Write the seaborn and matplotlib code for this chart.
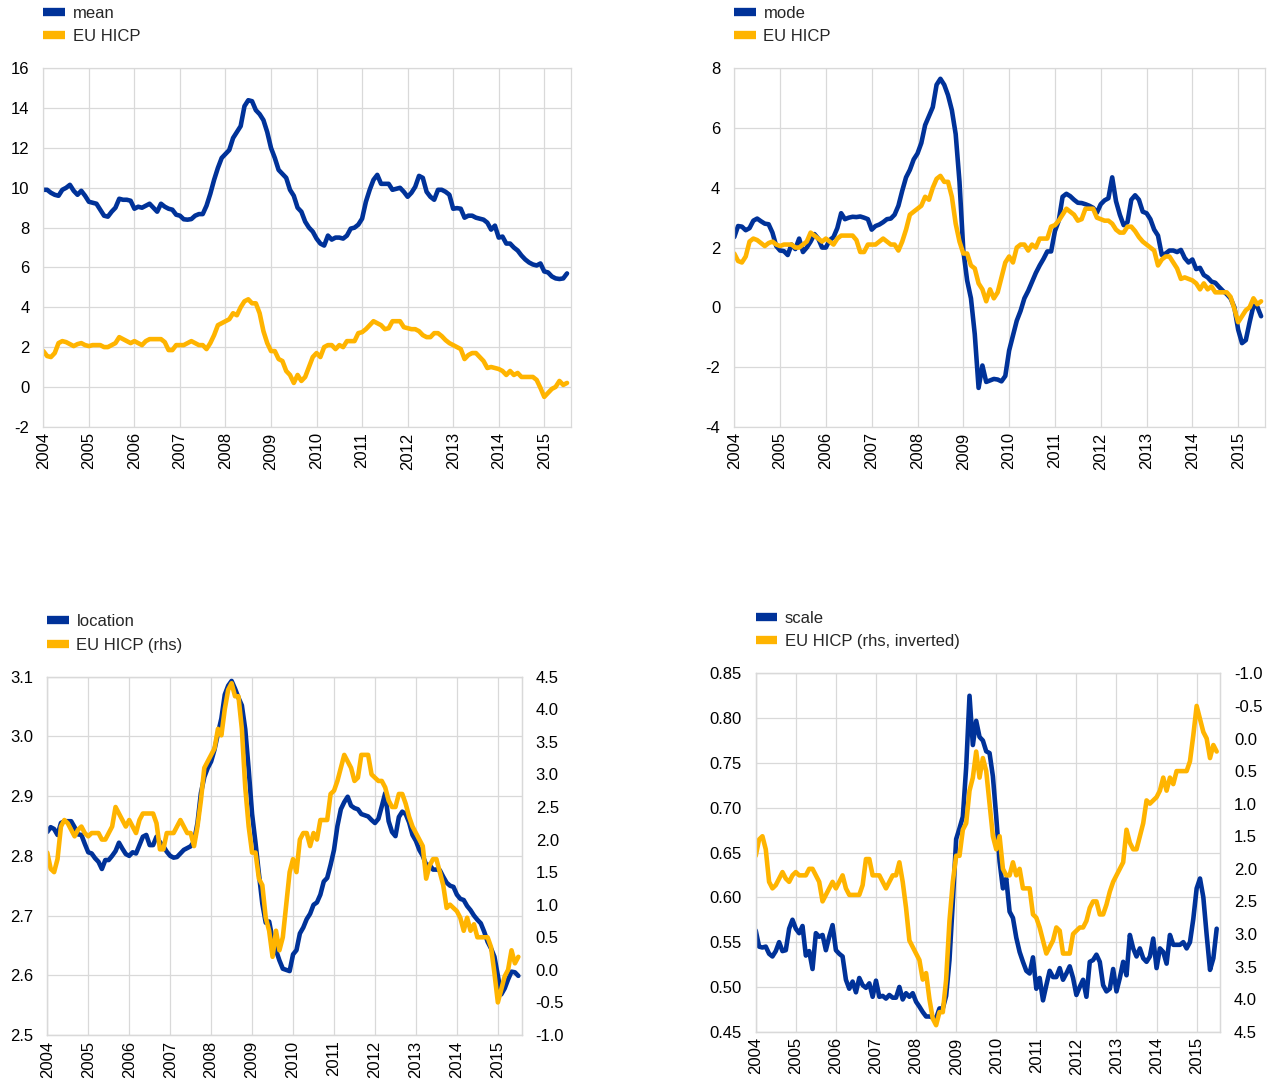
import numpy as np
import pandas as pd
import matplotlib
matplotlib.use("Agg")
import matplotlib.pyplot as plt
from matplotlib.lines import Line2D
from matplotlib.ticker import FormatStrFormatter, MultipleLocator
import seaborn as sns

# Monthly observations, January 2004 to July 2015
hicp = (
    [1.8, 1.55, 1.5, 1.7, 2.2, 2.3, 2.25, 2.15, 2.05, 2.15, 2.2, 2.1]
    + [2.05, 2.1, 2.1, 2.1, 2.0, 2.0, 2.1, 2.2, 2.5, 2.4, 2.3, 2.2]
    + [2.3, 2.2, 2.1, 2.3, 2.4, 2.4, 2.4, 2.4, 2.25, 1.85, 1.85, 2.1]
    + [2.1, 2.1, 2.2, 2.3, 2.2, 2.1, 2.1, 1.9, 2.2, 2.6, 3.1, 3.2]
    + [3.3, 3.4, 3.7, 3.6, 4.0, 4.3, 4.4, 4.2, 4.2, 3.7, 2.8, 2.2]
    + [1.8, 1.8, 1.4, 1.3, 0.8, 0.6, 0.2, 0.6, 0.3, 0.5, 1.0, 1.5]
    + [1.7, 1.5, 2.0, 2.1, 2.1, 1.9, 2.1, 2.0, 2.3, 2.3, 2.3, 2.7]
    + [2.75, 2.9, 3.1, 3.3, 3.2, 3.1, 2.9, 2.95, 3.3, 3.3, 3.3, 3.0]
    + [2.95, 2.9, 2.9, 2.8, 2.6, 2.5, 2.5, 2.7, 2.7, 2.55, 2.35, 2.2]
    + [2.1, 2.0, 1.9, 1.4, 1.6, 1.7, 1.7, 1.5, 1.3, 0.95, 1.0, 0.95]
    + [0.9, 0.8, 0.6, 0.8, 0.6, 0.7, 0.5, 0.5, 0.5, 0.5, 0.35, -0.05]
    + [-0.5, -0.3, -0.1, 0.0, 0.3, 0.1, 0.2]
)

mean_rate = (
    [9.9, 9.9, 9.75, 9.65, 9.6, 9.9, 10.0, 10.15, 9.85, 9.65, 9.85, 9.6]
    + [9.3, 9.25, 9.2, 8.9, 8.6, 8.55, 8.8, 9.0, 9.45, 9.4, 9.4, 9.35]
    + [8.95, 9.05, 9.0, 9.1, 9.2, 9.0, 8.8, 9.2, 9.05, 8.95, 8.9, 8.65]
    + [8.6, 8.42, 8.4, 8.43, 8.6, 8.68, 8.68, 9.1, 9.7, 10.4, 11.0, 11.5]
    + [11.7, 11.9, 12.5, 12.8, 13.1, 14.1, 14.4, 14.35, 13.9, 13.7, 13.4, 12.8]
    + [12.0, 11.5, 10.9, 10.7, 10.5, 9.9, 9.6, 9.0, 8.8, 8.3, 8.0, 7.8]
    + [7.45, 7.2, 7.1, 7.6, 7.4, 7.5, 7.5, 7.45, 7.6, 7.95, 8.0, 8.15]
    + [8.45, 9.3, 9.9, 10.4, 10.65, 10.2, 10.2, 10.2, 9.9, 9.95, 10.0, 9.8]
    + [9.55, 9.75, 10.05, 10.6, 10.5, 9.8, 9.55, 9.4, 9.9, 9.9, 9.8, 9.65]
    + [8.95, 8.98, 8.95, 8.5, 8.6, 8.6, 8.5, 8.45, 8.4, 8.25, 7.9, 8.1]
    + [7.5, 7.55, 7.2, 7.2, 7.0, 6.85, 6.6, 6.4, 6.25, 6.15, 6.1, 6.2]
    + [5.8, 5.75, 5.55, 5.45, 5.42, 5.45, 5.7]
)

mode_rate = (
    [2.35, 2.72, 2.7, 2.58, 2.65, 2.9, 2.97, 2.88, 2.8, 2.78, 2.5, 2.05]
    + [1.9, 1.88, 1.75, 2.1, 1.95, 2.3, 1.85, 2.0, 2.2, 2.45, 2.3, 2.0]
    + [2.0, 2.25, 2.35, 2.65, 3.15, 2.95, 3.0, 3.03, 3.02, 3.04, 3.0, 2.95]
    + [2.6, 2.72, 2.77, 2.85, 2.95, 2.97, 3.1, 3.4, 3.9, 4.35, 4.6, 4.95]
    + [5.15, 5.5, 6.1, 6.4, 6.7, 7.45, 7.65, 7.45, 7.1, 6.6, 5.8, 4.2]
    + [1.9, 0.9, 0.3, -0.9, -2.7, -1.95, -2.5, -2.45, -2.4, -2.42, -2.48, -2.3]
    + [-1.45, -0.95, -0.45, -0.12, 0.3, 0.55, 0.85, 1.15, 1.4, 1.62, 1.87, 1.87]
    + [2.55, 2.9, 3.7, 3.8, 3.72, 3.6, 3.5, 3.49, 3.45, 3.4, 3.33, 3.17]
    + [3.45, 3.58, 3.65, 4.35, 3.55, 3.1, 2.75, 2.85, 3.6, 3.75, 3.6, 3.2]
    + [3.15, 2.95, 2.6, 2.4, 1.75, 1.8, 1.9, 1.9, 1.85, 1.92, 1.65, 1.5]
    + [1.6, 1.28, 1.32, 1.08, 1.0, 0.86, 0.82, 0.68, 0.55, 0.44, 0.3, 0.0]
    + [-0.75, -1.2, -1.1, -0.5, 0.05, 0.02, -0.3]
)

location = (
    [2.84, 2.848, 2.845, 2.835, 2.855, 2.858, 2.858, 2.858, 2.848, 2.836, 2.835, 2.82]
    + [2.806, 2.804, 2.796, 2.79, 2.778, 2.793, 2.793, 2.8, 2.808, 2.822, 2.812, 2.803]
    + [2.8, 2.806, 2.804, 2.818, 2.832, 2.835, 2.818, 2.818, 2.832, 2.823, 2.816, 2.807]
    + [2.8, 2.797, 2.798, 2.804, 2.81, 2.813, 2.816, 2.824, 2.855, 2.905, 2.932, 2.947]
    + [2.958, 2.978, 3.005, 3.03, 3.07, 3.085, 3.093, 3.08, 3.065, 3.052, 3.012, 2.945]
    + [2.87, 2.822, 2.77, 2.72, 2.688, 2.69, 2.66, 2.642, 2.625, 2.611, 2.609, 2.607]
    + [2.635, 2.642, 2.67, 2.68, 2.694, 2.703, 2.718, 2.722, 2.735, 2.757, 2.763, 2.785]
    + [2.81, 2.85, 2.878, 2.89, 2.899, 2.884, 2.88, 2.878, 2.87, 2.868, 2.866, 2.86]
    + [2.855, 2.862, 2.883, 2.905, 2.858, 2.84, 2.833, 2.865, 2.874, 2.87, 2.856, 2.835]
    + [2.825, 2.81, 2.8, 2.785, 2.785, 2.777, 2.777, 2.776, 2.765, 2.755, 2.75, 2.748]
    + [2.735, 2.728, 2.726, 2.716, 2.709, 2.7, 2.693, 2.687, 2.673, 2.656, 2.645, 2.631]
    + [2.6, 2.568, 2.578, 2.593, 2.606, 2.605, 2.599]
)

scale = (
    [0.563, 0.545, 0.544, 0.545, 0.537, 0.534, 0.54, 0.55, 0.54, 0.541, 0.565, 0.575]
    + [0.565, 0.56, 0.568, 0.535, 0.54, 0.52, 0.56, 0.556, 0.558, 0.541, 0.556, 0.569]
    + [0.541, 0.537, 0.534, 0.508, 0.498, 0.506, 0.494, 0.51, 0.502, 0.499, 0.504, 0.489]
    + [0.507, 0.489, 0.49, 0.487, 0.491, 0.488, 0.488, 0.5, 0.486, 0.493, 0.489, 0.493]
    + [0.4835, 0.478, 0.472, 0.467, 0.467, 0.466, 0.465, 0.476, 0.476, 0.49, 0.53, 0.595]
    + [0.665, 0.677, 0.69, 0.745, 0.825, 0.77, 0.797, 0.779, 0.775, 0.763, 0.761, 0.735]
    + [0.69, 0.64, 0.61, 0.621, 0.584, 0.577, 0.555, 0.539, 0.528, 0.518, 0.515, 0.533]
    + [0.498, 0.51, 0.485, 0.502, 0.518, 0.511, 0.511, 0.521, 0.508, 0.515, 0.523, 0.51]
    + [0.491, 0.5, 0.508, 0.489, 0.528, 0.53, 0.536, 0.528, 0.502, 0.495, 0.498, 0.52]
    + [0.495, 0.51, 0.528, 0.513, 0.558, 0.543, 0.534, 0.543, 0.532, 0.528, 0.534, 0.554]
    + [0.521, 0.543, 0.539, 0.526, 0.558, 0.547, 0.547, 0.547, 0.55, 0.543, 0.55, 0.576]
    + [0.61, 0.621, 0.6, 0.558, 0.519, 0.532, 0.565]
)

year_ticks = list(range(2004, 2016))

n = len(hicp)
df = pd.DataFrame({
    "year": 2004 + np.arange(n) / 12,
    "hicp": hicp,
    "mean": mean_rate,
    "mode": mode_rate,
    "location": location,
    "scale": scale,
})

sns.set_theme(style="white")
plt.rcParams["font.family"] = ["Liberation Sans", "DejaVu Sans"]
plt.rcParams["axes.unicode_minus"] = False

BLUE = "#003299"
YELLOW = "#FFB400"
GRID = "#d9d9d9"
LW = 3.3
FS = 12

fig = plt.figure(figsize=(12.71, 10.85), dpi=100)


def base_axes(rect):
    ax = fig.add_axes(rect)
    ax.set_facecolor("white")
    ax.set_xlim(2004, 2004 + 139 / 12)
    ax.set_xticks(year_ticks)
    ax.set_xticklabels([str(y) for y in year_ticks], rotation=90)
    ax.grid(True, color=GRID, linewidth=0.9)
    ax.set_axisbelow(True)
    for sp in ax.spines.values():
        sp.set_color(GRID)
        sp.set_linewidth(0.9)
    ax.tick_params(axis="both", length=0, labelsize=FS, colors="black")
    ax.tick_params(axis="x", pad=4)
    ax.tick_params(axis="y", pad=10)
    ax.set_xlabel("")
    ax.set_ylabel("")
    return ax


def draw(ax, col, color):
    sns.lineplot(data=df, x="year", y=col, ax=ax, color=color, linewidth=LW,
                 estimator=None, legend=False)
    ax.set_xlabel("")
    ax.set_ylabel("")


def add_legend(ax, labels):
    handles = [Line2D([0], [0], color=BLUE, lw=6, solid_capstyle="butt"),
               Line2D([0], [0], color=YELLOW, lw=6, solid_capstyle="butt")]
    ax.legend(handles, labels, loc="upper left", bbox_to_anchor=(0.0, 1.175),
              frameon=False, borderpad=0, borderaxespad=0, handlelength=1.3,
              handletextpad=0.45, labelspacing=0.52, fontsize=FS)


# Mean vs HICP
ax1 = base_axes([0.0341, 0.6067, 0.4150, 0.3303])
draw(ax1, "mean", BLUE)
draw(ax1, "hicp", YELLOW)
ax1.set_ylim(-2, 16)
ax1.yaxis.set_major_locator(MultipleLocator(2))
ax1.yaxis.set_major_formatter(FormatStrFormatter("%d"))
add_legend(ax1, ["mean", "EU HICP"])

# Mode vs HICP
ax2 = base_axes([0.5777, 0.6067, 0.4175, 0.3303])
draw(ax2, "mode", BLUE)
draw(ax2, "hicp", YELLOW)
ax2.set_ylim(-4, 8)
ax2.yaxis.set_major_locator(MultipleLocator(2))
ax2.yaxis.set_major_formatter(FormatStrFormatter("%d"))
add_legend(ax2, ["mode", "EU HICP"])

# Location vs HICP (right-hand scale)
ax3 = base_axes([0.0372, 0.0461, 0.3733, 0.3302])
draw(ax3, "location", BLUE)
ax3.set_ylim(2.5, 3.1)
ax3.set_yticks(np.round(np.arange(2.5, 3.11, 0.1), 2))
ax3.yaxis.set_major_formatter(FormatStrFormatter("%.1f"))
ax3r = ax3.twinx()
draw(ax3r, "hicp", YELLOW)
ax3r.set_ylim(-1.0, 4.5)
ax3r.set_yticks(np.round(np.arange(-1.0, 4.51, 0.5), 2))
ax3r.yaxis.set_major_formatter(FormatStrFormatter("%.1f"))
ax3r.grid(False)
ax3r.tick_params(axis="y", length=0, labelsize=FS, pad=10, colors="black")
for sp in ax3r.spines.values():
    sp.set_color(GRID)
    sp.set_linewidth(0.9)
add_legend(ax3r, ["location", "EU HICP (rhs)"])

# Scale vs inverted HICP (right-hand scale)
ax4 = base_axes([0.5946, 0.0491, 0.3653, 0.3303])
draw(ax4, "scale", BLUE)
ax4.set_ylim(0.45, 0.85)
ax4.set_yticks(np.round(np.arange(0.45, 0.851, 0.05), 2))
ax4.yaxis.set_major_formatter(FormatStrFormatter("%.2f"))
ax4r = ax4.twinx()
draw(ax4r, "hicp", YELLOW)
ax4r.set_ylim(4.5, -1.0)
ax4r.set_yticks(np.round(np.arange(-1.0, 4.51, 0.5), 2))
ax4r.yaxis.set_major_formatter(FormatStrFormatter("%.1f"))
ax4r.grid(False)
ax4r.tick_params(axis="y", length=0, labelsize=FS, pad=10, colors="black")
for sp in ax4r.spines.values():
    sp.set_color(GRID)
    sp.set_linewidth(0.9)
add_legend(ax4r, ["scale", "EU HICP (rhs, inverted)"])

fig.savefig("out.png", dpi=100, facecolor="white")
